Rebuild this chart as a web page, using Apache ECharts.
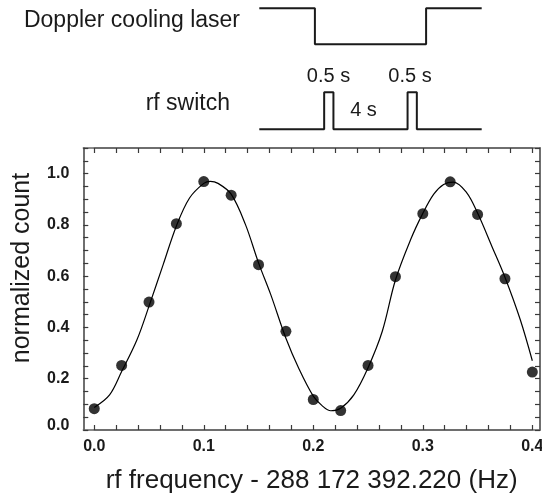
<!DOCTYPE html>
<html>
<head>
<meta charset="utf-8">
<script src="https://cdn.jsdelivr.net/npm/echarts@6/dist/echarts.min.js"></script>
<style>
html,body{margin:0;padding:0;background:#fff;}
#chart{width:542px;height:493px;}
</style>
</head>
<body>
<div id="chart"></div>
<script>
// ---- measured data ----
const dataX = [0.000, 0.025, 0.050, 0.075, 0.100, 0.125, 0.150, 0.175, 0.200, 0.225, 0.250, 0.275, 0.300, 0.325, 0.350, 0.375, 0.400];
const dataY = [0.083, 0.252, 0.499, 0.805, 0.969, 0.916, 0.645, 0.385, 0.119, 0.076, 0.252, 0.598, 0.844, 0.968, 0.841, 0.590, 0.226];

// fitted curve
const fitX = [0.000, 0.014, 0.025, 0.039, 0.050, 0.063, 0.075, 0.087, 0.100, 0.106, 0.113, 0.125, 0.138, 0.150, 0.161, 0.175, 0.187, 0.200, 0.208, 0.216, 0.225, 0.237, 0.250, 0.263, 0.275, 0.289, 0.300, 0.310, 0.319, 0.328, 0.340, 0.350, 0.363, 0.375, 0.389, 0.400];
const fitY = [0.088, 0.137, 0.228, 0.352, 0.483, 0.646, 0.796, 0.905, 0.962, 0.970, 0.962, 0.920, 0.802, 0.652, 0.530, 0.358, 0.238, 0.132, 0.095, 0.075, 0.085, 0.137, 0.243, 0.385, 0.585, 0.744, 0.845, 0.920, 0.958, 0.967, 0.926, 0.846, 0.717, 0.596, 0.430, 0.270];

// timing diagram (time in s, level 1 = on, 0 = off)
const dopplerT = [-3.5, -0.5, 5.5, 8.5];
const dopplerL = [1, 0, 1, 1];
const rfT = [-3.5, 0, 0.5, 4.5, 5.0, 8.5];
const rfL = [0, 1, 0, 1, 0, 0];

// axis ticks / labels
const xLabelValues = [0.0, 0.1, 0.2, 0.3, 0.4];
const xTickStep = 0.02;
const yLabelValues = [0.0, 0.2, 0.4, 0.6, 0.8, 1.0];
const yTickStep = 0.05;

const xTitle = 'rf frequency - 288 172 392.220 (Hz)';
const yTitle = 'normalized count';
const dopplerLabel = 'Doppler cooling laser';
const rfLabel = 'rf switch';
const pulseLabel = '0.5 s';
const gapLabel = '4 s';

// ---- chart ----
const FONT = '"Liberation Sans", Arial, Helvetica, sans-serif';
const TXT = '#1a1a1a';
const FRAME = '#666';

const zip = (a, b) => a.map((v, i) => [v, b[i]]);

const tickStyle = () => ({
  show: true, inside: true, length: 5,
  lineStyle: { color: '#3a3a3a', width: 1.2 }
});
const frameLine = () => ({ show: true, onZero: false, lineStyle: { color: FRAME, width: 1.5 } });
const ghostLabel = () => ({ show: true, fontSize: 6, color: 'rgba(0,0,0,0)' });

const chart = echarts.init(document.getElementById('chart'), null, { renderer: 'canvas' });

const X_MIN = -0.01, X_MAX = 0.407;
const mainLeft = 83.3, mainRight = 2, mainTop = 148, mainBottom = 63;
const mainWidth = 542 - mainLeft - mainRight;
// tick grid spans exactly 0..0.4 of the main x scale
const tLeft = mainLeft + (0 - X_MIN) / (X_MAX - X_MIN) * mainWidth;
const tWidth = (0.4 - 0) / (X_MAX - X_MIN) * mainWidth;

chart.setOption({
  animation: false,
  backgroundColor: '#fff',
  textStyle: { fontFamily: FONT },
  grid: [
    { left: mainLeft, top: mainTop, right: mainRight, bottom: mainBottom, outerBoundsMode: 'none', containLabel: false },
    { left: 259.3, width: 222.4, top: 8.3, height: 36, outerBoundsMode: 'none', containLabel: false },
    { left: 259.3, width: 222.4, top: 92.3, height: 37, outerBoundsMode: 'none', containLabel: false },
    { left: tLeft, width: tWidth, top: mainTop, bottom: mainBottom, outerBoundsMode: 'none', containLabel: false },
    { left: mainLeft, top: mainTop, right: mainRight, bottom: mainBottom, outerBoundsMode: 'none', containLabel: false }
  ],
  xAxis: [
    {
      gridIndex: 0, type: 'value', min: X_MIN, max: X_MAX, position: 'bottom',
      axisLine: frameLine(), splitLine: { show: false }, axisTick: { show: false },
      axisLabel: {
        customValues: xLabelValues, margin: 9, fontSize: 16, fontWeight: 'bold', color: TXT, fontFamily: FONT,
        formatter: v => v.toFixed(1)
      },
      name: xTitle, nameLocation: 'middle', nameGap: 38,
      nameTextStyle: { fontSize: 26, color: TXT, fontFamily: FONT }
    },
    {
      gridIndex: 0, type: 'value', min: X_MIN, max: X_MAX, position: 'top',
      axisLine: frameLine(), splitLine: { show: false }, axisTick: { show: false },
      axisLabel: { show: false }
    },
    { gridIndex: 1, type: 'value', min: -3.5, max: 8.5, show: false },
    { gridIndex: 2, type: 'value', min: -3.5, max: 8.5, show: false },
    {
      gridIndex: 3, type: 'value', min: 0, max: 0.4, interval: xTickStep, position: 'bottom',
      axisLine: frameLine(), splitLine: { show: false }, axisTick: tickStyle(), axisLabel: ghostLabel()
    },
    {
      gridIndex: 3, type: 'value', min: 0, max: 0.4, interval: xTickStep, position: 'top',
      axisLine: frameLine(), splitLine: { show: false }, axisTick: tickStyle(), axisLabel: ghostLabel()
    },
    { gridIndex: 4, type: 'value', min: X_MIN, max: X_MAX, show: false }
  ],
  yAxis: [
    {
      gridIndex: 0, type: 'value', min: 0, max: 1.1, position: 'left',
      axisLine: frameLine(), splitLine: { show: false }, axisTick: { show: false },
      axisLabel: {
        customValues: yLabelValues, margin: 14, fontSize: 16, fontWeight: 'bold', color: TXT, fontFamily: FONT,
        formatter: v => (Math.abs(v) < 1e-9 ? '{z|0.0}' : v.toFixed(1)),
        rich: { z: { fontSize: 16, fontWeight: 'bold', color: TXT, fontFamily: FONT, padding: [0, 0, 8, 0] } }
      }
    },
    {
      gridIndex: 0, type: 'value', min: 0, max: 1.1, position: 'right',
      axisLine: frameLine(), splitLine: { show: false }, axisTick: { show: false },
      axisLabel: { show: false }
    },
    { gridIndex: 1, type: 'value', min: 0, max: 1, show: false },
    { gridIndex: 2, type: 'value', min: 0, max: 1, show: false },
    { gridIndex: 3, type: 'value', min: 0, max: 1, show: false },
    {
      gridIndex: 4, type: 'value', min: 0, max: 1.1, interval: yTickStep, position: 'left',
      axisLine: frameLine(), splitLine: { show: false }, axisTick: tickStyle(), axisLabel: ghostLabel()
    },
    {
      gridIndex: 4, type: 'value', min: 0, max: 1.1, interval: yTickStep, position: 'right',
      axisLine: frameLine(), splitLine: { show: false }, axisTick: tickStyle(), axisLabel: ghostLabel()
    }
  ],
  series: [
    {
      type: 'line', xAxisIndex: 0, yAxisIndex: 0,
      data: zip(fitX, fitY), smooth: 0.35, showSymbol: false, symbol: 'none',
      lineStyle: { color: '#000', width: 1.2 }, silent: true, z: 2
    },
    {
      type: 'scatter', xAxisIndex: 0, yAxisIndex: 0,
      data: zip(dataX, dataY), symbol: 'circle', symbolSize: 11,
      itemStyle: { color: '#000' }, z: 3
    },
    {
      type: 'line', xAxisIndex: 2, yAxisIndex: 2,
      data: zip(dopplerT, dopplerL), step: 'end', showSymbol: false, symbol: 'none', clip: false,
      lineStyle: { color: '#1a1a1a', width: 2 }
    },
    {
      type: 'line', xAxisIndex: 3, yAxisIndex: 3,
      data: zip(rfT, rfL), step: 'end', showSymbol: false, symbol: 'none', clip: false,
      lineStyle: { color: '#1a1a1a', width: 2 }
    }
  ],
  graphic: [
    { type: 'text', x: 240, y: 21, style: { text: dopplerLabel, font: '23px ' + FONT, fill: TXT, align: 'right', verticalAlign: 'middle' } },
    { type: 'text', x: 230, y: 104, style: { text: rfLabel, font: '23px ' + FONT, fill: TXT, align: 'right', verticalAlign: 'middle' } },
    { type: 'text', x: 328.5, y: 76, style: { text: pulseLabel, font: '20px ' + FONT, fill: TXT, align: 'center', verticalAlign: 'middle' } },
    { type: 'text', x: 410, y: 76, style: { text: pulseLabel, font: '20px ' + FONT, fill: TXT, align: 'center', verticalAlign: 'middle' } },
    { type: 'text', x: 363.5, y: 110, style: { text: gapLabel, font: '20px ' + FONT, fill: TXT, align: 'center', verticalAlign: 'middle' } },
    { type: 'text', x: 22, y: 268, rotation: Math.PI / 2, style: { text: yTitle, font: '25px ' + FONT, fill: TXT, align: 'center', verticalAlign: 'middle' } }
  ]
});
</script>
</body>
</html>
